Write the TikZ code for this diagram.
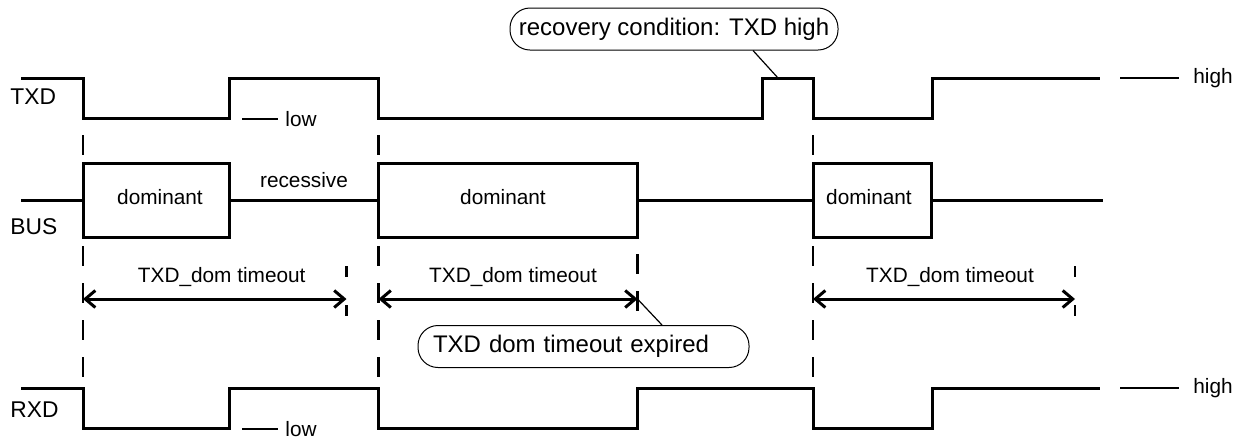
\documentclass[tikz,border=0pt]{standalone}
\usepackage{fontspec}
\setmainfont{Liberation Sans}
\usetikzlibrary{arrows.meta, positioning}

\begin{document}
\begin{tikzpicture}[x=0.5pt, y=-0.5pt,
                    >={Straight Barb[length=5pt, width=8.5pt]},
                    wave/.style = {line width=1.5pt},
                    guide/.style = {line width=1.1pt, dash pattern=on 10pt off 8.5pt, dash phase=10pt},
                    shortguide/.style = {line width=1.1pt, dash pattern=on 5.5pt off 14pt},
                    span/.style = {line width=1.5pt, <->},
                    busbox/.style = {draw, line width=1.5pt, minimum height=37pt, inner sep=0pt},
                    callout/.style = {draw, line width=0.5pt, rounded corners=10pt,
                                      minimum height=21pt, font=\fontsize{12}{14}\selectfont},
                    sig/.style = {anchor=west, inner sep=0pt, font=\fontsize{11.4}{13}\selectfont},
                    level/.style = {anchor=west, inner xsep=3.5pt, font=\fontsize{10.4}{12}\selectfont},
                    small/.style = {font=\fontsize{10.4}{12}\selectfont},
                    tick/.style = {line width=0.6pt}
                   ]

    \useasboundingbox (0,0) rectangle (1240,441);

    % signal names
    \node[sig] (txd) at (10,97) {TXD};
    \node[sig] (bus) at (10,227) {BUS};
    \node[sig] (rxd) at (10,409.5) {RXD};

    % TXD and RXD levels
    \draw[wave] (21,78) -| (83,118) -| (229.5,78) -| (378.5,118) -| (762,78)
                -| (813,118) -| (932,78) -- (1100,78);
    \draw[wave] (21,388) -| (83,428) -| (229.5,388) -| (378.5,428) -| (637.5,388)
                -| (813,428) -| (932,388) -- (1100,388);

    % BUS
    \node[busbox, minimum width=73.25pt] (dom1) at (156.25,200) {};
    \node[busbox, minimum width=129.5pt] (dom2) at (508,200) {};
    \node[busbox, minimum width=59pt] (dom3) at (872,200) {};
    \node[small] (dtext1) at (160,197) {dominant};
    \node[small] (dtext2) at (503,197) {dominant};
    \node[small] (dtext3) at (869,197) {dominant};

    \coordinate (busin) at (21,200);
    \coordinate (busout) at (1103,200);
    \draw[wave] (busin) -- (dom1);
    \draw[wave] (dom1) -- node[small, above=2pt] (rec) {recessive} (dom2);
    \draw[wave] (dom2) -- (dom3);
    \draw[wave] (dom3) -- (busout);

    % guide lines
    \draw[guide] (83,118) -- (83,388);
    \draw[guide] (378.5,118) -- (378.5,388);
    \draw[guide] (813,118) -- (813,388);
    \draw[guide] (637.5,237) -- (637.5,313);
    \draw[shortguide] (346.5,266) -- (346.5,316);
    \draw[shortguide] (1075,266) -- (1075,316);

    % timeouts
    \coordinate (a1) at (83,299);
    \coordinate (b1) at (346.5,299);
    \coordinate (a2) at (378.5,299);
    \coordinate (b2) at (637.5,299);
    \coordinate (a3) at (813,299);
    \coordinate (b3) at (1075,299);
    \draw[span] (a1) -- node[small, above=2pt, xshift=3.5pt] (to1) {TXD\_dom timeout} (b1);
    \draw[span] (a2) -- node[small, above=2pt, xshift=2.5pt] (to2) {TXD\_dom timeout} (b2);
    \draw[span] (a3) -- node[small, above=2pt, xshift=3pt] (to3) {TXD\_dom timeout} (b3);

    % callouts
    \node[callout, minimum width=164pt] (recov) at (674,29) {recovery condition: TXD high};
    \coordinate (pulse) at (778,78);
    \draw[tick] ([xshift=39.5pt]recov.south) -- (pulse);

    \node[callout, text width=150.5pt, align=left, inner xsep=7.5pt] (expired) at (583.5,346.5)
         {TXD dom timeout expired};
    \draw[tick] ([xshift=39.25pt]expired.north) -- (b2);

    % level marks
    \node[level, inner xsep=7pt] (txdhigh) at (1179,78) {high};
    \node[level] (txdlow) at (278,119) {low};
    \node[level, inner xsep=7pt] (rxdhigh) at (1179,388) {high};
    \node[level] (rxdlow) at (278,429) {low};
    \coordinate (th) at (1120,78);
    \coordinate (tl) at (242,119);
    \coordinate (rh) at (1120,388);
    \coordinate (rl) at (242,429);
    \draw[tick] (th) -- (txdhigh);
    \draw[tick] (tl) -- (txdlow);
    \draw[tick] (rh) -- (rxdhigh);
    \draw[tick] (rl) -- (rxdlow);

\end{tikzpicture}
\end{document}
